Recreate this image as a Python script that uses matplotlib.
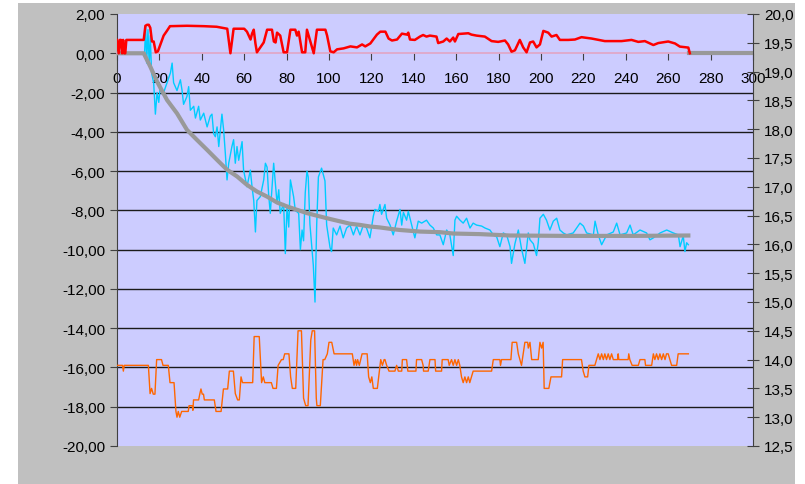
import matplotlib
matplotlib.use("Agg")
import matplotlib.pyplot as plt
from matplotlib.patches import Rectangle
from matplotlib.ticker import FuncFormatter, MultipleLocator

plt.rcParams['font.family'] = ['Liberation Sans', 'DejaVu Sans']

# red series (left axis)
red_x = [0, 0.8, 1.3, 1.9, 2.4, 2.9, 3.4, 3.9, 4.4, 12.6, 13.4, 14.2, 15.0, 15.7, 16.5, 17.3,
         18.3, 19.3, 21.0, 22.0, 23.6, 25.0, 33.0, 41.0, 47.0, 49.5, 52.0, 53.5, 55.0, 60.0,
         61.3, 63.0, 63.7, 64.5, 65.3, 66.0, 67.6, 69.2, 70.8, 73.1, 74.0, 74.8, 75.5, 77.0,
         78.6, 80.2, 81.8, 84.1, 84.9, 85.7, 87.3, 88.8, 89.6, 90.4, 92.0, 92.8, 94.3, 98.3,
         99.1, 100.6, 102.2, 103.8, 106.9, 110.1, 113.2, 115.6, 117.1, 119.5, 122.6, 124.2,
         126.6, 128.1, 129.7, 132.1, 134.4, 136.8, 137.4, 138.2, 140.5, 142.9, 144.4, 146.0,
         147.6, 150.7, 151.5, 153.9, 155.5, 157.0, 158.6, 159.4, 161.0, 165.7, 167.2, 169.6,
         173.5, 176.7, 179.8, 183.0, 184.5, 186.1, 187.7, 190.0, 191.6, 193.2, 194.8, 196.3,
         197.9, 199.5, 201.1, 203.4, 205.0, 207.3, 208.9, 212.9, 216.0, 219.1, 223.9, 230.1,
         238.0, 242.7, 245.9, 249.0, 253.0, 255.3, 260.0, 263.2, 265.5, 269.5, 270.2]
red_y = [0.68, 0.0, 0.68, 0.68, 0.0, 0.68, 0.0, 0.0, 0.68, 0.68, 1.4, 1.45, 1.45, 1.3, 0.6, 0.6,
         0.05, 0.1, 0.6, 0.9, 1.15, 1.38, 1.4, 1.38, 1.35, 1.3, 1.25, 0.0, 1.25, 1.25,
         1.1, 0.7, 1.0, 1.2, 0.5, 0.05, 0.3, 0.55, 1.2, 1.2, 0.6, 0.55, 1.05, 0.9,
         0.05, 0.05, 1.2, 1.2, 0.9, 1.1, 0.05, 0.05, 1.2, 0.9, 0.3, 0.0, 1.2, 1.2,
         0.9, 0.1, 0.05, 0.2, 0.25, 0.35, 0.3, 0.45, 0.35, 0.5, 0.95, 1.1,
         1.1, 0.75, 0.65, 0.7, 1.0, 0.95, 1.05, 0.7, 0.68, 0.85, 0.93, 0.85,
         0.9, 0.85, 0.52, 0.6, 0.75, 0.6, 0.8, 0.6, 0.98, 1.02, 0.95, 0.9,
         0.85, 0.62, 0.58, 0.65, 0.45, 0.08, 0.15, 0.68, 0.3, 0.05, 0.55, 0.6,
         0.3, 0.45, 1.14, 1.05, 0.85, 0.93, 0.68, 0.68, 0.7, 0.82, 0.75, 0.62,
         0.62, 0.68, 0.58, 0.62, 0.42, 0.52, 0.6, 0.5, 0.34, 0.29, 0.0]

# cyan series (left axis)
cyan_x = [13.0, 13.5, 14.0, 14.6, 15.2, 15.7, 16.3, 17.3, 18.1, 18.9, 19.7, 20.4, 22.0, 23.6,
          25.2, 26.0, 26.7, 28.3, 29.9, 30.7, 31.4, 33.0, 33.8, 34.6, 36.2, 37.0, 38.5, 39.3,
          40.9, 42.5, 44.0, 44.8, 45.6, 46.4, 47.2, 48.0, 49.5, 50.3, 51.1, 51.9, 52.7, 54.2,
          55.0, 55.8, 56.6, 57.4, 59.0, 59.7, 61.3, 62.9, 63.7, 64.5, 65.3, 66.0, 67.6, 69.2,
          70.0, 70.8, 71.5, 72.3, 73.9, 75.5, 76.3, 77.0, 78.6, 79.4, 80.2, 81.0, 81.8, 83.3,
          84.1, 85.7, 86.5, 87.3, 88.0, 88.8, 89.6, 90.2, 91.0, 92.6, 93.4, 94.2, 95.0, 96.5,
          98.1, 98.9, 100.5, 101.2, 102.0, 103.6, 105.2, 106.7, 108.3, 109.9, 111.5, 113.0,
          114.6, 116.2, 117.7, 119.3, 120.9, 121.7, 123.3, 124.0, 124.8, 126.4, 127.2, 128.8,
          130.3, 131.9, 133.5, 134.3, 135.1, 136.6, 137.4, 139.0, 140.5, 142.1, 143.7, 146.0,
          147.6, 149.2, 150.8, 152.3, 153.9, 155.5, 157.0, 158.6, 159.4, 160.2, 161.8, 163.3,
          164.9, 166.5, 168.0, 169.6, 172.0, 173.6, 175.9, 177.5, 179.1, 180.6, 182.2, 183.8,
          185.4, 186.1, 187.7, 189.3, 190.8, 192.4, 194.0, 194.8, 196.4, 197.9, 198.7, 199.5,
          201.1, 202.6, 204.2, 205.8, 207.4, 208.9, 210.5, 212.1, 215.2, 218.4, 220.0, 221.5,
          224.7, 225.5, 227.0, 228.6, 231.0, 234.1, 235.7, 237.3, 240.4, 242.0, 243.5, 246.7,
          249.8, 251.4, 253.0, 256.2, 259.3, 262.4, 264.8, 265.6, 267.1, 267.9, 268.7, 269.5]
cyan_y = [0.0, 1.4, -0.5, 1.2, -0.6, 0.9, -1.0, -1.5, -3.1, -2.0, -2.5, -1.7, -2.0, -1.5,
          -1.0, -0.5, -1.5, -1.9, -1.35, -1.9, -2.6, -2.2, -1.7, -2.9, -2.7, -3.3, -2.7, -3.4,
          -3.05, -3.75, -3.2, -3.1, -4.1, -4.25, -3.75, -4.75, -3.1, -3.9, -5.1, -6.45, -5.6, -4.75,
          -4.4, -5.6, -4.75, -5.45, -4.5, -5.95, -6.8, -5.95, -6.8, -7.5, -9.1, -7.5, -7.3, -6.45,
          -5.6, -5.8, -7.15, -8.15, -5.6, -7.65, -6.95, -8.15, -7.65, -10.2, -7.8, -8.85, -6.45, -7.3,
          -8.0, -8.15, -10.0, -9.0, -9.55, -7.1, -6.0, -6.3, -8.7, -10.8, -12.67, -8.7, -6.3, -5.85,
          -6.5, -8.75, -9.9, -10.1, -8.9, -9.25, -8.8, -9.4, -8.9, -8.75, -9.25, -8.8,
          -9.25, -8.75, -8.9, -9.4, -8.3, -7.95, -8.05, -7.7, -8.2, -7.7, -8.4, -8.75,
          -9.25, -8.55, -7.95, -8.75, -8.1, -8.5, -8.05, -8.75, -9.4, -8.55, -8.65, -8.5,
          -8.75, -8.9, -9.25, -9.25, -9.75, -9.0, -9.25, -10.3, -8.5, -8.3, -8.5, -8.65,
          -8.4, -8.9, -8.65, -8.75, -8.8, -8.9, -9.0, -9.25, -9.35, -9.85, -9.15, -9.25,
          -9.85, -10.7, -9.7, -9.0, -9.95, -10.7, -9.15, -9.5, -9.7, -10.3, -9.65, -8.4,
          -8.2, -8.5, -9.0, -8.55, -8.4, -9.0, -9.15, -9.25, -9.15, -8.65, -8.8, -9.15,
          -9.25, -8.55, -9.25, -9.75, -9.25, -9.1, -8.65, -9.25, -9.15, -8.75, -9.25, -9.0,
          -9.15, -9.5, -9.4, -9.15, -9.0, -9.15, -9.25, -9.85, -9.3, -10.1, -9.65, -9.75]

# grey fitted curve (left axis)
fit_x = [0, 12.6, 15.7, 18.9, 23.6, 28.3, 33.0, 37.7, 42.5, 47.2, 51.9, 56.6, 61.3, 66.0, 70.8,
         75.5, 80.2, 84.9, 89.6, 95.7, 100.5, 105.2, 109.9, 114.6, 119.3, 124.0, 128.8, 133.5,
         142.9, 152.3, 158.6, 171.2, 185.4, 212.1, 243.5, 269.5]
fit_y = [0, 0, -0.68, -1.44, -2.38, -3.06, -3.9, -4.41, -4.92, -5.43, -5.93, -6.27, -6.7, -7.04,
         -7.3, -7.6, -7.8, -7.97, -8.14, -8.31, -8.44, -8.56, -8.68, -8.74, -8.82, -8.87, -8.94,
         -9.0, -9.08, -9.11, -9.18, -9.21, -9.28, -9.3, -9.3, -9.28]
tail_x = [270, 300]
tail_y = [0, 0]

# orange series (right axis)
orange_x = [0, 2.6, 3.0, 3.4, 14.8, 15.6, 16.3, 17.1, 17.9, 18.7, 21.0, 21.7, 24.2, 25.0, 26.9,
            27.8, 28.3, 28.9, 29.6, 30.5, 33.6, 34.0, 35.5, 35.8, 36.1, 38.5, 39.1, 39.6, 40.2,
            40.8, 41.2, 45.9, 46.7, 49.1, 50.2, 52.2, 53.0, 54.9, 55.8, 56.9, 57.7, 58.5, 59.2,
            64.0, 64.7, 67.1, 68.2, 69.0, 69.7, 72.8, 73.6, 75.2, 76.0, 77.6, 78.4, 79.1, 81.1,
            81.9, 82.7, 84.3, 85.4, 87.0, 88.0, 89.0, 90.1, 91.4, 92.1, 93.2, 94.0, 94.3, 95.9,
            97.2, 98.0, 99.2, 100.0, 101.3, 102.4, 111.0, 111.8, 112.5, 113.0, 113.5, 114.3,
            115.6, 118.0, 118.7, 119.5, 120.2, 120.9, 122.8, 124.4, 125.2, 126.0, 126.4, 127.2,
            128.3, 131.1, 131.9, 132.7, 134.3, 134.6, 136.6, 137.2, 141.0, 141.3, 143.7, 144.4,
            144.6, 146.8, 147.6, 150.0, 150.3, 153.1, 153.4, 156.2, 156.7, 157.8, 158.6, 159.4,
            160.2, 161.0, 161.7, 162.5, 163.3, 164.1, 164.9, 165.7, 166.4, 167.2, 168.0, 176.7,
            177.5, 180.6, 180.9, 181.4, 185.8, 186.4, 188.5, 189.3, 190.8, 191.6, 192.4, 193.7,
            194.0, 194.8, 195.6, 198.7, 199.5, 200.3, 201.0, 201.5, 203.7, 204.7, 209.7, 210.2,
            219.1, 219.9, 220.7, 222.0, 222.6, 225.4, 226.2, 227.0, 227.8, 228.6, 229.4, 230.1,
            230.9, 231.7, 232.5, 233.3, 234.1, 236.1, 236.4, 236.7, 241.1, 241.4, 241.9, 243.0,
            245.9, 246.7, 249.0, 249.3, 252.2, 253.0, 253.7, 254.5, 255.3, 256.1, 256.9, 257.7,
            258.5, 259.2, 260.0, 260.8, 261.6, 264.0, 264.7, 269.5]
orange_y = [13.9, 13.9, 13.8, 13.9, 13.9, 13.41, 13.5, 13.4, 13.4, 14.0, 14.0, 13.9, 13.9, 13.6, 13.6,
            13.1, 13.0, 13.1, 13.0, 13.1, 13.1, 13.2, 13.2, 13.12, 13.3, 13.3, 13.41, 13.49, 13.4,
            13.4, 13.3, 13.3, 13.1, 13.1, 13.49, 13.49, 13.8, 13.8, 13.41, 13.3, 13.3, 13.7, 13.6,
            13.6, 14.4, 14.4, 13.6, 13.7, 13.6, 13.6, 13.5, 13.5, 13.9, 14.0, 14.0, 14.1, 14.1,
            13.7, 13.5, 13.5, 14.5, 14.5, 13.33, 13.2, 13.2, 14.34, 14.5, 14.5, 13.33, 13.2, 13.2,
            14.0, 14.0, 14.1, 14.3, 14.3, 14.1, 14.1, 13.9, 14.0, 13.9, 14.0, 13.9,
            14.1, 14.1, 13.7, 13.6, 13.7, 13.5, 13.5, 14.0, 13.9, 14.0, 14.0, 13.9,
            13.8, 13.8, 13.9, 13.8, 13.8, 14.0, 14.0, 13.8, 13.8, 14.0, 14.0, 13.9,
            13.8, 13.8, 14.0, 14.0, 13.8, 13.8, 14.0, 14.0, 13.9, 14.0, 13.9, 14.0,
            13.9, 14.0, 13.9, 13.7, 13.6, 13.7, 13.6, 13.7, 13.6, 13.7, 13.8, 13.8,
            14.0, 14.0, 13.9, 14.0, 14.0, 14.3, 14.3, 14.1, 13.9, 14.1, 14.3, 14.3,
            14.2, 14.3, 14.0, 14.0, 14.3, 14.2, 14.3, 13.5, 13.5, 13.7, 13.7, 14.0,
            14.0, 13.8, 13.7, 13.7, 13.9, 13.9, 14.0, 14.1, 14.0, 14.1, 14.0, 14.1,
            14.0, 14.1, 14.0, 14.1, 14.0, 14.0, 14.1, 14.0, 14.0, 14.1, 14.0, 13.9,
            13.9, 14.0, 14.0, 13.9, 13.9, 14.1, 14.0, 14.1, 14.0, 14.1, 14.0, 14.1,
            14.0, 14.1, 14.1, 14.0, 13.9, 13.9, 14.1, 14.1]

fig = plt.figure(figsize=(8.05, 4.85), dpi=100)
fig.patch.set_facecolor('white')
fig.patches.append(Rectangle((18 / 805, 0), 777 / 805, 1 - 4 / 485, transform=fig.transFigure,
                             facecolor='#C0C0C0', edgecolor='none', zorder=-10))

ax = fig.add_axes([117 / 805, 1 - 447 / 485, 636 / 805, 432 / 485])
ax.set_facecolor('#CCCCFF')
ax.set_xlim(0, 300)
ax.set_ylim(-20, 2)
ax.yaxis.set_major_locator(MultipleLocator(2))
ax.xaxis.set_major_locator(MultipleLocator(20))
ax.yaxis.set_major_formatter(FuncFormatter(lambda v, p: f'{v:.2f}'.replace('.', ',')))
for g in range(-18, 0, 2):
    ax.axhline(g, color='#1a1a1a', lw=1.0, zorder=1)

ax.spines['top'].set_visible(False)
ax.spines['right'].set_visible(False)
ax.spines['bottom'].set_position(('data', 0))
ax.spines['bottom'].set_color('#E0A8C8')
ax.spines['bottom'].set_linewidth(1.3)
ax.spines['left'].set_color('#404040')
ax.tick_params(axis='x', direction='out', length=5, color='#404040', pad=8, labelsize=11)
ax.tick_params(axis='y', direction='out', length=5, color='#404040', labelsize=11)

ax.plot(cyan_x, cyan_y, color='#00CCFF', lw=1.0, zorder=3)
ax.plot(fit_x, fit_y, color='#999999', lw=3.0, zorder=4)
ax.plot(tail_x, tail_y, color='#999999', lw=3.0, zorder=4)
ax.plot(red_x, red_y, color='#FF0000', lw=1.8, zorder=5)

ax2 = ax.twinx()
ax2.set_ylim(12.5, 20)
ax2.yaxis.set_major_locator(MultipleLocator(0.5))
ax2.yaxis.set_major_formatter(FuncFormatter(lambda v, p: f'{v:.1f}'.replace('.', ',')))
for s in ['top', 'bottom', 'left']:
    ax2.spines[s].set_visible(False)
ax2.spines['right'].set_color('#404040')
ax2.tick_params(axis='y', direction='inout', length=9, color='#404040', labelsize=11)
ax2.plot(orange_x, orange_y, color='#FF6600', lw=1.0)

fig.savefig('out.png', dpi=100)
